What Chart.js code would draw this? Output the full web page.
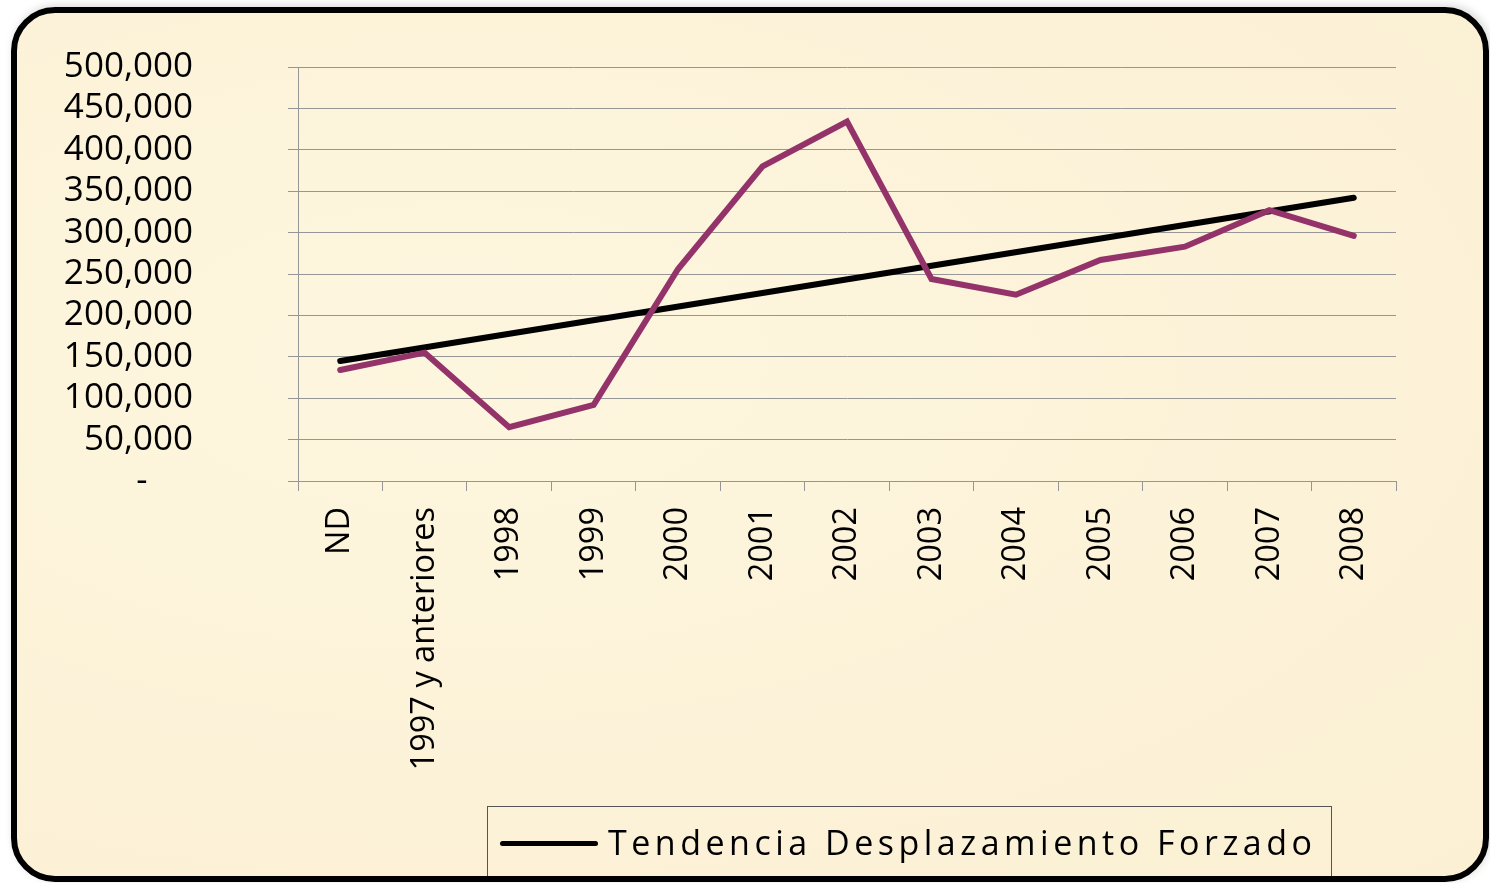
<!DOCTYPE html>
<html>
<head>
<meta charset="utf-8">
<script src="https://cdn.jsdelivr.net/npm/chart.js@4"></script>
<style>
  html, body { margin: 0; padding: 0; background: #fff; }
  body { width: 1490px; height: 883px; position: relative; overflow: hidden; }
  #frame {
    position: absolute; left: 11px; top: 7px; width: 1466px; height: 863px;
    border: 6px solid transparent; border-radius: 44px;
    background: radial-gradient(ellipse at 30% 40%, #fdf6de 0%, #fcf2d8 60%, #fbf0d3 100%);
    box-shadow: 2px -2px 8px rgba(0,0,0,0.15);
  }
  #frame-border {
    position: absolute; left: 11px; top: 7px; width: 1466px; height: 863px;
    border: 6px solid #000; border-radius: 44px; pointer-events: none;
  }
  #chart { position: absolute; left: 0; top: 0; }
  #legend {
    position: absolute; left: 487px; top: 806px; width: 845px; height: 76px;
    border: 1px solid #555; box-sizing: border-box;
    font-family: "Open Sans", sans-serif; font-size: 34px; color: #000;
    letter-spacing: 4.5px; white-space: nowrap;
  }
  #legend .line {
    position: absolute; left: 12px; top: 34px; width: 98px; height: 5px;
    background: #000; border-radius: 3px;
  }
  #legend .label { position: absolute; left: 120px; top: 12px; }
</style>
</head>
<body>
<div id="frame"></div>
<canvas id="chart" width="1490" height="883"></canvas>
<div id="legend"><span class="line"></span><span class="label" id="legend-label"></span></div>
<div id="frame-border"></div>
<script>
const CATEGORIES = ['ND', '1997 y anteriores', '1998', '1999', '2000', '2001', '2002',
  '2003', '2004', '2005', '2006', '2007', '2008'];
const DESPLAZAMIENTO = [134000, 155000, 65000, 92000, 256000, 380000, 434000,
  244000, 225000, 267000, 283000, 327000, 296000];
// trend line endpoints; Chart.js joins them (spanGaps)
const TENDENCIA = [145000, null, null, null, null, null, null,
  null, null, null, null, null, 342000];
const TREND_LABEL = 'Tendencia Desplazamiento Forzado';
const Y_TICKS = [0, 50000, 100000, 150000, 200000, 250000, 300000, 350000, 400000, 450000, 500000];

const FONT = '"Open Sans", sans-serif';
const GRID = '#969696';

document.getElementById('legend-label').textContent = TREND_LABEL;

new Chart(document.getElementById('chart'), {
  type: 'line',
  data: {
    labels: CATEGORIES,
    datasets: [
      {
        label: 'Desplazamiento Forzado',
        data: DESPLAZAMIENTO,
        borderColor: '#93336a',
        borderWidth: 6,
        pointRadius: 0,
        tension: 0,
        borderCapStyle: 'round',
        borderJoinStyle: 'miter',
      },
      {
        label: TREND_LABEL,
        data: TENDENCIA,
        spanGaps: true,
        borderColor: '#000',
        borderWidth: 6,
        pointRadius: 0,
        borderCapStyle: 'round',
      },
    ],
  },
  options: {
    responsive: false,
    animation: false,
    layout: { padding: { left: 0, right: 94, top: 67, bottom: 102 } },
    plugins: { legend: { display: false }, tooltip: { enabled: false } },
    scales: {
      x: {
        offset: true,
        grid: { offset: true, drawOnChartArea: false, color: GRID, tickLength: 10, lineWidth: 1 },
        border: { color: GRID, width: 1 },
        ticks: {
          autoSkip: false, maxRotation: 90, minRotation: 90, padding: 16,
          color: '#000', font: { family: FONT, size: 32.5 },
        },
        afterFit: (scale) => { scale.height = 300; },
      },
      y: {
        min: 0,
        max: 500000,
        afterBuildTicks: (scale) => { scale.ticks = Y_TICKS.map((v) => ({ value: v })); },
        grid: { color: GRID, tickLength: 10, lineWidth: 1 },
        border: { color: GRID, width: 1 },
        ticks: {
          autoSkip: false, padding: 95, color: '#000', font: { family: FONT, size: 35 },
          callback: (v) => (v === 0 ? '-     ' : v.toLocaleString('en-US')),
        },
        afterFit: (scale) => {
          scale.width = 298;
          // the wide label gap should not push the plot top/bottom inwards
          scale.paddingTop = 0;
          scale.paddingBottom = 0;
        },
      },
    },
  },
});
</script>
</body>
</html>
